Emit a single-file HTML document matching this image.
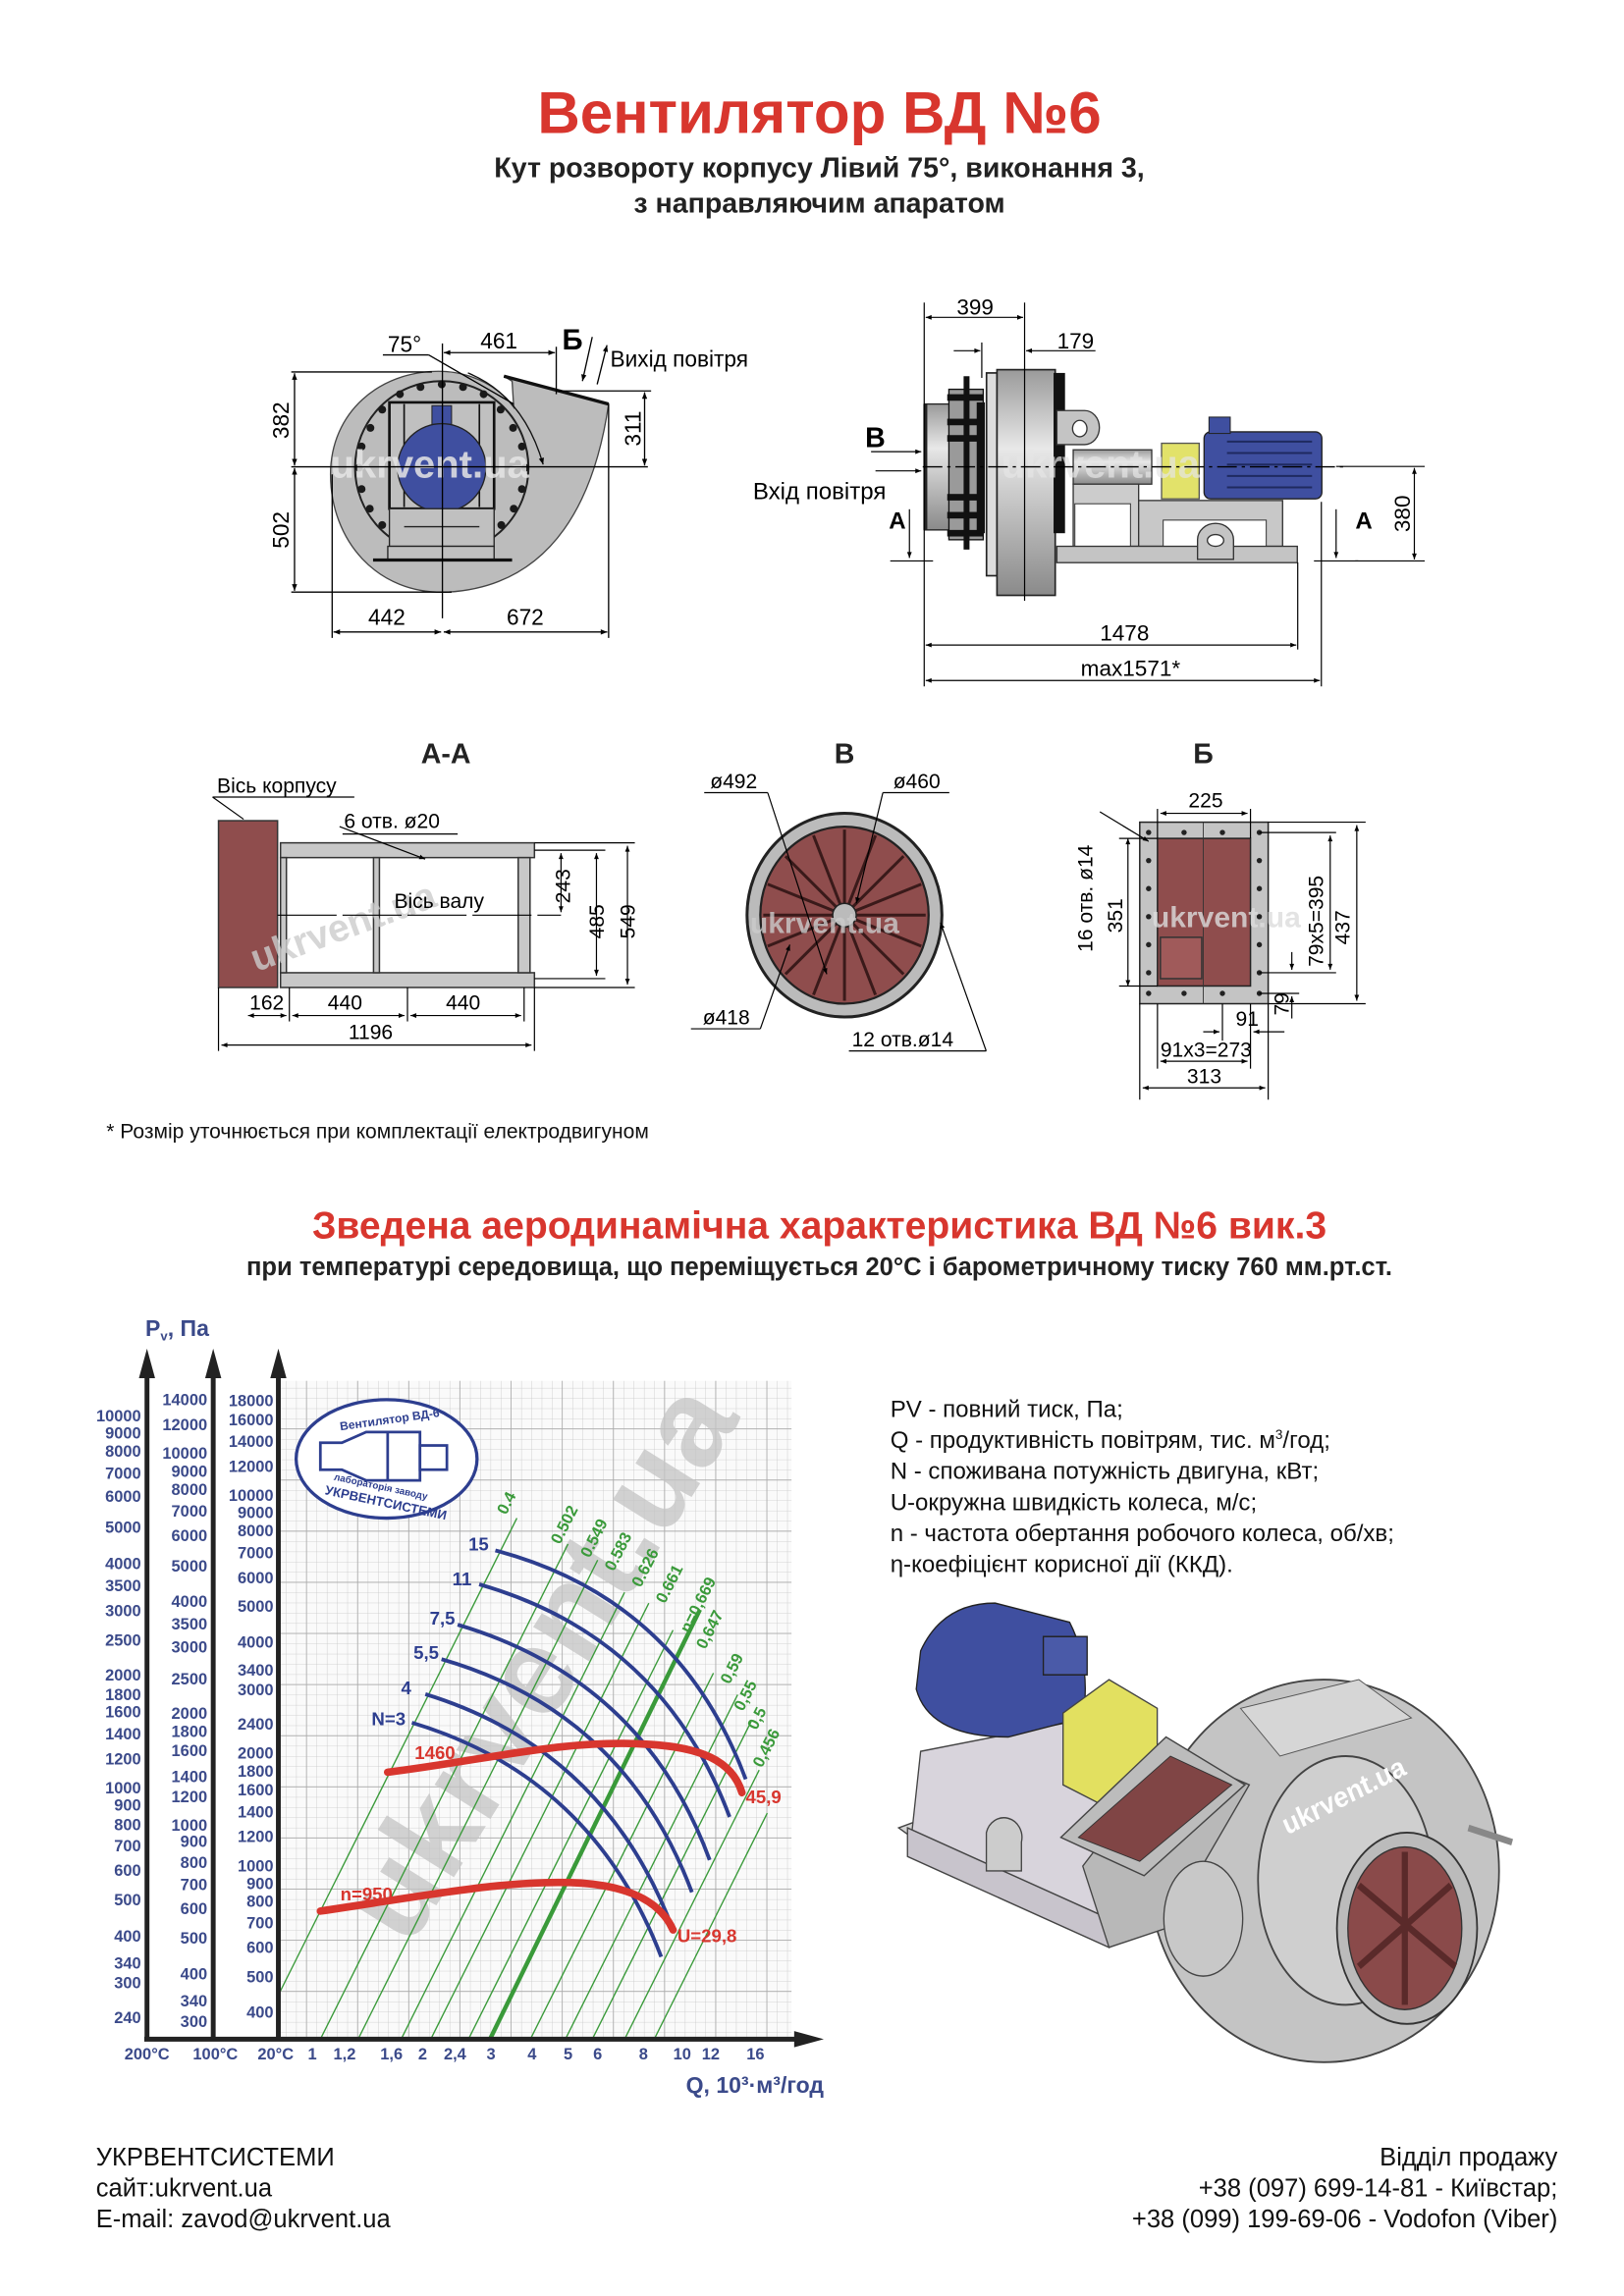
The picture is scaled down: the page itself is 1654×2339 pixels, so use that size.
<!DOCTYPE html>
<html><head><meta charset="utf-8">
<style>
html,body{margin:0;padding:0;background:#fff;}
svg{display:block;}
text{font-family:"Liberation Sans",Arial,sans-serif;}
</style></head><body>
<svg width="1654" height="2339" viewBox="0 0 1100 1555.5" xmlns="http://www.w3.org/2000/svg">
<defs>
<marker id="ar" viewBox="0 0 10 10" refX="10" refY="5" markerWidth="8" markerHeight="5" orient="auto-start-reverse"><path d="M0,1 L10,5 L0,9 z" fill="#000"/></marker>
<pattern id="gf" width="19" height="19" patternUnits="userSpaceOnUse"><path d="M19 0 V19 M0 19 H19" stroke="#c8c8c8" stroke-width="1.5" fill="none"/></pattern>
<pattern id="gc" width="95" height="95" patternUnits="userSpaceOnUse"><path d="M95 0 V95 M0 95 H95" stroke="#aaa" stroke-width="3" fill="none"/></pattern>
<linearGradient id="cyl" x1="0" y1="0" x2="0" y2="1"><stop offset="0" stop-color="#9a9a9a"/><stop offset="0.35" stop-color="#e8e8e8"/><stop offset="1" stop-color="#8a8a8a"/></linearGradient>
</defs>

<!-- Titles -->
<text x="555" y="90" text-anchor="middle" font-size="40" font-weight="bold" fill="#d8362e">Вентилятор  ВД №6</text>
<text x="555" y="120" text-anchor="middle" font-size="19" font-weight="bold" fill="#222">Кут розвороту корпусу Лівий 75°, виконання 3,</text>
<text x="555" y="144" text-anchor="middle" font-size="19" font-weight="bold" fill="#222">з направляючим апаратом</text>

<!-- Front view -->
<g transform="translate(199.5,219.4) scale(0.2216)">
 <path d="M640 160 L960 245 C920 520 800 800 470 820 C250 830 110 660 110 460 C110 270 260 145 440 145 C550 145 630 200 670 255 L665 175 Z" fill="#bcbcbc" stroke="#444" stroke-width="4"/>
 <line x1="640" y1="160" x2="960" y2="245" stroke="#111" stroke-width="10"/>
 <circle cx="450" cy="440" r="265" fill="none" stroke="#222" stroke-width="6"/>
 <g fill="#1a1a1a">
  <circle cx="450" cy="185" r="12"/><circle cx="515" cy="193" r="12"/><circle cx="578" cy="215" r="12"/><circle cx="630" cy="262" r="12"/><circle cx="668" cy="318" r="12"/><circle cx="695" cy="375" r="12"/><circle cx="705" cy="440" r="12"/><circle cx="695" cy="505" r="12"/><circle cx="670" cy="565" r="12"/><circle cx="632" cy="615" r="12"/>
  <circle cx="385" cy="193" r="12"/><circle cx="322" cy="215" r="12"/><circle cx="268" cy="262" r="12"/><circle cx="232" cy="318" r="12"/><circle cx="205" cy="375" r="12"/><circle cx="197" cy="440" r="12"/><circle cx="205" cy="505" r="12"/><circle cx="230" cy="565" r="12"/><circle cx="268" cy="615" r="12"/>
 </g>
 <rect x="290" y="240" width="320" height="325" fill="#c0c0c0" stroke="#111" stroke-width="8"/>
 <line x1="335" y1="245" x2="335" y2="560" stroke="#111" stroke-width="5"/><line x1="565" y1="245" x2="565" y2="560" stroke="#111" stroke-width="5"/>
 <rect x="420" y="250" width="60" height="60" fill="#3f4fa0" stroke="#222" stroke-width="3"/>
 <circle cx="450" cy="440" r="135" fill="#3f4fa0" stroke="#222" stroke-width="4"/>
 <rect x="290" y="565" width="320" height="115" fill="#c0c0c0" stroke="#222" stroke-width="4"/>
 <line x1="335" y1="620" x2="565" y2="620" stroke="#222" stroke-width="4"/>
 <rect x="285" y="680" width="325" height="40" fill="#c0c0c0" stroke="#222" stroke-width="4"/>
 <line x1="240" y1="722" x2="665" y2="722" stroke="#111" stroke-width="10"/>
 <path d="M530 150 Q700 220 760 430" fill="none" stroke="#111" stroke-width="4" marker-end="url(#ar)"/>
 <text x="110" y="470" font-size="120" font-weight="bold" fill="#e6e6e6" opacity="0.85">ukrvent.ua</text>
 <g stroke="#000" stroke-width="4" fill="none">
  <line x1="-10" y1="437" x2="1080" y2="437"/>
  <line x1="452" y1="60" x2="452" y2="900"/>
  <line x1="-10" y1="147" x2="420" y2="147"/><line x1="-10" y1="820" x2="480" y2="820"/>
  <line x1="0" y1="151" x2="0" y2="433" marker-start="url(#ar)" marker-end="url(#ar)"/>
  <line x1="0" y1="441" x2="0" y2="816" marker-start="url(#ar)" marker-end="url(#ar)"/>
  <line x1="800" y1="205" x2="1090" y2="205"/>
  <line x1="1070" y1="209" x2="1070" y2="433" marker-start="url(#ar)" marker-end="url(#ar)"/>
  <line x1="115" y1="460" x2="115" y2="960"/><line x1="960" y1="245" x2="960" y2="960"/>
  <line x1="119" y1="942" x2="448" y2="942" marker-start="url(#ar)" marker-end="url(#ar)"/>
  <line x1="456" y1="942" x2="956" y2="942" marker-start="url(#ar)" marker-end="url(#ar)"/>
  <line x1="456" y1="88" x2="796" y2="88" marker-start="url(#ar)" marker-end="url(#ar)"/>
  <line x1="800" y1="70" x2="800" y2="215"/>
  <line x1="270" y1="95" x2="410" y2="95"/><line x1="410" y1="95" x2="670" y2="245"/>
  <line x1="910" y1="40" x2="880" y2="175" marker-end="url(#ar)"/>
  <line x1="925" y1="185" x2="955" y2="65" marker-end="url(#ar)"/>
 </g>
 <g font-size="68" fill="#000">
  <text x="285" y="85">75°</text><text x="568" y="75">461</text>
  <text x="818" y="78" font-size="88" font-weight="bold">Б</text>
  <text x="965" y="130">Вихід повітря</text>
  <text transform="translate(-18,295) rotate(-90)" text-anchor="middle">382</text>
  <text transform="translate(-18,630) rotate(-90)" text-anchor="middle">502</text>
  <text transform="translate(1058,320) rotate(-90)" text-anchor="middle">311</text>
  <text x="282" y="920" text-anchor="middle">442</text><text x="705" y="920" text-anchor="middle">672</text>
 </g>
</g>

<!-- Side view -->
<g transform="translate(611.7,219.4) scale(0.2216)">
 <rect x="65" y="245" width="80" height="385" fill="url(#cyl)" stroke="#222" stroke-width="4"/>
 <rect x="62" y="245" width="12" height="385" fill="#222"/>
 <rect x="140" y="200" width="105" height="460" fill="#9a9a9a" stroke="#111" stroke-width="4"/>
 <g fill="#111">
  <rect x="185" y="160" width="18" height="530"/><rect x="135" y="215" width="110" height="20"/><rect x="135" y="290" width="110" height="20"/><rect x="135" y="340" width="110" height="20"/><rect x="135" y="520" width="110" height="20"/><rect x="135" y="575" width="110" height="20"/><rect x="135" y="630" width="110" height="20"/>
  <rect x="225" y="240" width="25" height="400"/>
 </g>
 <rect x="255" y="150" width="32" height="620" fill="#ddd" stroke="#222" stroke-width="5"/>
 <rect x="287" y="140" width="178" height="690" fill="url(#cyl)" stroke="#222" stroke-width="5"/>
 <rect x="460" y="150" width="35" height="490" fill="#111"/>
 <path d="M470 265 h85 a45 52 0 0 1 0 104 h-85z" fill="#c4c4c4" stroke="#333" stroke-width="4"/>
 <ellipse cx="540" cy="320" rx="22" ry="25" fill="#fff" stroke="#333" stroke-width="4"/>
 <rect x="520" y="385" width="240" height="105" fill="url(#cyl)" stroke="#333" stroke-width="4"/>
 <rect x="520" y="490" width="200" height="190" fill="#ccc" stroke="#333" stroke-width="4"/>
 <rect x="525" y="550" width="170" height="130" fill="#fff" stroke="#333" stroke-width="3"/>
 <rect x="720" y="540" width="440" height="140" fill="#c8c8c8" stroke="#333" stroke-width="4"/>
 <rect x="795" y="600" width="315" height="80" fill="#fff" stroke="#333" stroke-width="3"/>
 <rect x="470" y="680" width="735" height="50" fill="#c4c4c4" stroke="#333" stroke-width="4"/>
 <path d="M900 720 v-60 a55 50 0 0 1 110 0 v60z" fill="#c4c4c4" stroke="#333" stroke-width="4"/>
 <ellipse cx="955" cy="662" rx="25" ry="18" fill="#fff" stroke="#333" stroke-width="4"/>
 <rect x="790" y="365" width="115" height="170" fill="#e2e26a" stroke="#555" stroke-width="4"/>
 <rect x="920" y="330" width="360" height="205" rx="20" fill="#3f4fa0" stroke="#222" stroke-width="4"/>
 <g stroke="#1f2a60" stroke-width="6"><line x1="990" y1="360" x2="1250" y2="360"/><line x1="990" y1="395" x2="1250" y2="395"/><line x1="990" y1="430" x2="1250" y2="430"/><line x1="990" y1="465" x2="1250" y2="465"/><line x1="990" y1="500" x2="1250" y2="500"/></g>
 <rect x="935" y="285" width="65" height="50" fill="#3f4fa0" stroke="#222" stroke-width="3"/>
 <text x="300" y="470" font-size="120" font-weight="bold" fill="#e6e6e6" opacity="0.7">ukrvent.ua</text>
 <line x1="60" y1="437" x2="1350" y2="437" stroke="#000" stroke-width="4" stroke-dasharray="60 15 10 15"/>
</g>

<!-- Side dims -->
<g stroke="#000" stroke-width="0.8" fill="none">
 <line x1="626" y1="205" x2="626" y2="465"/><line x1="694" y1="205" x2="694" y2="407"/>
 <line x1="665" y1="232" x2="665" y2="256"/><line x1="879" y1="381" x2="879" y2="440"/><line x1="895" y1="340" x2="895" y2="465"/>
 <line x1="627" y1="215" x2="693" y2="215" marker-start="url(#ar)" marker-end="url(#ar)"/>
 <line x1="646" y1="237.6" x2="664" y2="237.6" marker-end="url(#ar)"/>
 <line x1="742" y1="237.6" x2="695" y2="237.6" marker-end="url(#ar)"/>
 <line x1="627" y1="437" x2="878" y2="437" marker-start="url(#ar)" marker-end="url(#ar)"/>
 <line x1="627" y1="461" x2="894" y2="461" marker-start="url(#ar)" marker-end="url(#ar)"/>
 <line x1="590" y1="306" x2="624" y2="306" marker-end="url(#ar)"/>
 <line x1="593" y1="319" x2="624" y2="319" marker-end="url(#ar)"/>
 <line x1="603" y1="380" x2="632" y2="380"/><line x1="616" y1="345" x2="616" y2="378" marker-end="url(#ar)"/>
 <line x1="890" y1="380" x2="920" y2="380"/><line x1="905" y1="345" x2="905" y2="378" marker-end="url(#ar)"/>
 <line x1="905" y1="316" x2="965" y2="316"/><line x1="918" y1="380" x2="965" y2="380"/>
 <line x1="958" y1="317" x2="958" y2="379" marker-start="url(#ar)" marker-end="url(#ar)"/>
</g>
<g font-size="15" fill="#000">
 <text x="648" y="213">399</text><text x="716" y="236">179</text>
 <text x="586" y="303" font-weight="bold" font-size="19">В</text>
 <text x="510" y="338" font-size="16">Вхід повітря</text>
 <text x="602" y="358" font-weight="bold" font-size="16">А</text>
 <text x="918" y="358" font-weight="bold" font-size="16">А</text>
 <text x="745" y="434">1478</text><text x="732" y="458">max1571*</text>
 <text transform="translate(955,348) rotate(-90)" text-anchor="middle">380</text>
</g>

<!-- Section headings -->
<g font-size="19" font-weight="bold" fill="#222">
 <text x="302" y="517" text-anchor="middle">А-А</text>
 <text x="572" y="517" text-anchor="middle">В</text>
 <text x="815" y="517" text-anchor="middle">Б</text>
</g>

<!-- A-A -->
<g font-size="14" fill="#000">
 <rect x="148" y="556" width="40" height="113" fill="#8f4d4d" stroke="#333"/>
 <rect x="190" y="571" width="172" height="10" fill="#c8c8c8" stroke="#333"/>
 <rect x="190" y="659" width="172" height="10" fill="#c8c8c8" stroke="#333"/>
 <rect x="190" y="581" width="4" height="78" fill="#c8c8c8" stroke="#333"/>
 <rect x="253" y="581" width="4" height="78" fill="#c8c8c8" stroke="#333"/>
 <rect x="351" y="581" width="8" height="78" fill="#c8c8c8" stroke="#333"/>
 <text x="165" y="630" font-size="26" font-weight="bold" fill="#ccc" opacity="0.8" transform="rotate(-20 250 620)">ukrvent.ua</text>
 <g stroke="#000" stroke-width="0.8" fill="none">
  <line x1="148" y1="669" x2="148" y2="712"/><line x1="196" y1="669" x2="196" y2="692"/><line x1="276" y1="669" x2="276" y2="692"/><line x1="355" y1="669" x2="355" y2="692"/><line x1="362" y1="669" x2="362" y2="712"/>
  <line x1="168" y1="688" x2="194" y2="688" marker-start="url(#ar)" marker-end="url(#ar)"/>
  <line x1="198" y1="688" x2="274" y2="688" marker-start="url(#ar)" marker-end="url(#ar)"/>
  <line x1="278" y1="688" x2="353" y2="688" marker-start="url(#ar)" marker-end="url(#ar)"/>
  <line x1="150" y1="708" x2="360" y2="708" marker-start="url(#ar)" marker-end="url(#ar)"/>
  <line x1="362" y1="571" x2="430" y2="571"/><line x1="362" y1="669" x2="430" y2="669"/><line x1="362" y1="576" x2="410" y2="576"/><line x1="362" y1="663" x2="410" y2="663"/>
  <line x1="380" y1="578" x2="380" y2="618" marker-start="url(#ar)" marker-end="url(#ar)"/>
  <line x1="404" y1="578" x2="404" y2="661" marker-start="url(#ar)" marker-end="url(#ar)"/>
  <line x1="425" y1="573" x2="425" y2="667" marker-start="url(#ar)" marker-end="url(#ar)"/>
  <line x1="144" y1="540" x2="240" y2="540"/><line x1="144" y1="540" x2="165" y2="555"/>
  <line x1="232" y1="565" x2="310" y2="565"/><line x1="230" y1="560" x2="288" y2="582" marker-end="url(#ar)"/>
  <line x1="188" y1="620" x2="380" y2="620" stroke-dasharray="40 4"/>
 </g>
 <text x="147" y="537">Вісь корпусу</text>
 <text x="233" y="561">6 отв. ø20</text>
 <text x="267" y="615">Вісь валу</text>
 <text x="169" y="684">162</text><text x="222" y="684">440</text><text x="302" y="684">440</text><text x="236" y="704">1196</text>
 <text transform="translate(386,612) rotate(-90)">243</text>
 <text transform="translate(409,636) rotate(-90)">485</text>
 <text transform="translate(430,636) rotate(-90)">549</text>
</g>

<!-- B view -->
<g font-size="14">
 <ellipse cx="572" cy="620" rx="66" ry="69" fill="#bbb" stroke="#222" stroke-width="2"/>
 <ellipse cx="572" cy="620" rx="57" ry="60" fill="#8f4d4d" stroke="#222" stroke-width="1.5"/>
 <g stroke="#3a1a1a" stroke-width="2">
  <line x1="572" y1="562" x2="572" y2="678"/><line x1="517" y1="620" x2="627" y2="620"/>
  <line x1="532" y1="580" x2="612" y2="660"/><line x1="612" y1="580" x2="532" y2="660"/>
  <line x1="551" y1="566" x2="593" y2="674"/><line x1="593" y1="566" x2="551" y2="674"/>
  <line x1="520" y1="599" x2="624" y2="641"/><line x1="520" y1="641" x2="624" y2="599"/>
 </g>
 <circle cx="572" cy="620" r="8" fill="#bbb" stroke="#222"/>
 <text x="508" y="632" font-size="20" font-weight="bold" fill="#ccc" opacity="0.8">ukrvent.ua</text>
 <g stroke="#000" stroke-width="0.8" fill="none">
  <line x1="477" y1="537" x2="520" y2="537"/><line x1="520" y1="537" x2="560" y2="660" marker-end="url(#ar)"/>
  <line x1="598" y1="537" x2="643" y2="537"/><line x1="598" y1="537" x2="580" y2="612" marker-end="url(#ar)"/>
  <line x1="468" y1="697" x2="515" y2="697"/><line x1="515" y1="697" x2="535" y2="640" marker-end="url(#ar)"/>
  <line x1="668" y1="712" x2="637" y2="625" marker-end="url(#ar)"/><line x1="575" y1="712" x2="668" y2="712"/>
 </g>
 <text x="481" y="534">ø492</text><text x="605" y="534">ø460</text>
 <text x="476" y="694">ø418</text><text x="577" y="709">12 отв.ø14</text>
</g>

<!-- Б view -->
<g font-size="14">
 <rect x="772" y="557" width="87" height="123" fill="#c4c4c4" stroke="#222" stroke-width="1"/>
 <rect x="784" y="568" width="63" height="100" fill="#8f4d4d" stroke="#222"/>
 <rect x="786" y="635" width="28" height="28" fill="#a05a5a" stroke="#333"/>
 <line x1="815" y1="557" x2="815" y2="680" stroke="#333" stroke-width="0.6"/>
 <g fill="#222"><circle cx="778" cy="564" r="1.8"/><circle cx="778" cy="583" r="1.8"/><circle cx="778" cy="602" r="1.8"/><circle cx="778" cy="621" r="1.8"/><circle cx="778" cy="640" r="1.8"/><circle cx="778" cy="659" r="1.8"/><circle cx="778" cy="673" r="1.8"/><circle cx="853" cy="564" r="1.8"/><circle cx="853" cy="583" r="1.8"/><circle cx="853" cy="602" r="1.8"/><circle cx="853" cy="621" r="1.8"/><circle cx="853" cy="640" r="1.8"/><circle cx="853" cy="659" r="1.8"/><circle cx="853" cy="673" r="1.8"/><circle cx="802" cy="564" r="1.8"/><circle cx="828" cy="564" r="1.8"/><circle cx="802" cy="673" r="1.8"/><circle cx="828" cy="673" r="1.8"/></g>
 <text x="780" y="628" font-size="20" font-weight="bold" fill="#ddd" opacity="0.8">ukrvent.ua</text>
 <g stroke="#000" stroke-width="0.8" fill="none">
  <line x1="784" y1="548" x2="784" y2="568"/><line x1="847" y1="548" x2="847" y2="568"/>
  <line x1="786" y1="551" x2="845" y2="551" marker-start="url(#ar)" marker-end="url(#ar)"/>
  <line x1="859" y1="557" x2="925" y2="557"/><line x1="859" y1="680" x2="925" y2="680"/><line x1="853" y1="564" x2="905" y2="564"/><line x1="853" y1="659" x2="905" y2="659"/><line x1="853" y1="673" x2="880" y2="673"/>
  <line x1="919" y1="559" x2="919" y2="678" marker-start="url(#ar)" marker-end="url(#ar)"/>
  <line x1="901" y1="566" x2="901" y2="657" marker-start="url(#ar)" marker-end="url(#ar)"/>
  <line x1="875" y1="645" x2="875" y2="657" marker-end="url(#ar)"/><line x1="875" y1="690" x2="875" y2="675" marker-end="url(#ar)"/>
  <line x1="764" y1="568" x2="764" y2="668" marker-start="url(#ar)" marker-end="url(#ar)"/>
  <line x1="758" y1="568" x2="784" y2="568"/><line x1="758" y1="668" x2="784" y2="668"/>
  <line x1="745" y1="550" x2="778" y2="570" marker-end="url(#ar)"/>
  <line x1="772" y1="680" x2="772" y2="745"/><line x1="859" y1="680" x2="859" y2="745"/><line x1="784" y1="680" x2="784" y2="724"/><line x1="847" y1="680" x2="847" y2="724"/><line x1="828" y1="680" x2="828" y2="705"/>
  <line x1="815" y1="699" x2="826" y2="699" marker-end="url(#ar)"/><line x1="870" y1="699" x2="849" y2="699" marker-end="url(#ar)"/>
  <line x1="786" y1="719" x2="845" y2="719" marker-start="url(#ar)" marker-end="url(#ar)"/>
  <line x1="774" y1="737" x2="857" y2="737" marker-start="url(#ar)" marker-end="url(#ar)"/>
 </g>
 <text x="805" y="547">225</text>
 <text transform="translate(740,645) rotate(-90)">16 отв. ø14</text>
 <text transform="translate(760,632) rotate(-90)">351</text>
 <text transform="translate(896,655) rotate(-90)">79x5=395</text>
 <text transform="translate(914,640) rotate(-90)">437</text>
 <text transform="translate(873,688) rotate(-90)">79</text>
 <text x="837" y="695">91</text><text x="786" y="716">91x3=273</text><text x="804" y="734">313</text>
</g>

<text x="72" y="771" font-size="14" fill="#111">* Розмір уточнюється при комплектації електродвигуном</text>

<text x="555" y="839" text-anchor="middle" font-size="26" font-weight="bold" fill="#d8362e">Зведена аеродинамічна характеристика ВД №6 вик.3</text>
<text x="555" y="864" text-anchor="middle" font-size="17" font-weight="bold" fill="#222">при температурі середовища, що переміщується 20°С і барометричному тиску 760 мм.рт.ст.</text>

<!-- Chart -->
<g transform="translate(0,864.4) scale(0.3647)">
 <rect x="520" y="195" width="950" height="1223" fill="#fafafa"/>
 <rect x="520" y="195" width="950" height="1223" fill="url(#gf)"/>
 <rect x="520" y="195" width="950" height="1223" fill="url(#gc)"/>
 <text transform="translate(760,1250) rotate(-58)" font-size="230" font-weight="bold" fill="#c4c4c4" opacity="0.75">ukrvent.ua</text>
 <ellipse cx="718" cy="340" rx="168" ry="110" fill="#fff" stroke="#2d3e8f" stroke-width="6"/>
 <path d="M595 310 h40 l45 -20 h100 v90 h-100 l-45 -20 h-40z" fill="#fff" stroke="#2d3e8f" stroke-width="5"/>
 <rect x="780" y="315" width="50" height="45" fill="#fff" stroke="#2d3e8f" stroke-width="5"/>
 <line x1="720" y1="290" x2="720" y2="380" stroke="#2d3e8f" stroke-width="5"/>
 <text x="630" y="275" font-size="22" font-weight="bold" fill="#2d3e8f" transform="rotate(-8 718 265)">Вентилятор ВД-6</text>
 <text x="615" y="400" font-size="18" font-weight="bold" fill="#2d3e8f" transform="rotate(12 718 410)">лабораторія заводу</text>
 <text x="600" y="430" font-size="24" font-weight="bold" fill="#2d3e8f" transform="rotate(12 718 430)">УКРВЕНТСИСТЕМИ</text>
 <g stroke="#3a9a3a" stroke-width="2.5" fill="none">
  <line x1="520" y1="1330" x2="960" y2="450"/>
  <line x1="595" y1="1418" x2="1055" y2="498"/>
  <line x1="665" y1="1418" x2="1110" y2="528"/>
  <line x1="745" y1="1418" x2="1160" y2="588"/>
  <line x1="800" y1="1418" x2="1205" y2="608"/>
  <line x1="870" y1="1418" x2="1250" y2="658"/>
  <line x1="985" y1="1418" x2="1325" y2="738"/>
  <line x1="1050" y1="1418" x2="1370" y2="778"/>
  <line x1="1100" y1="1418" x2="1395" y2="828"/>
  <line x1="1160" y1="1418" x2="1410" y2="918"/>
  <line x1="1215" y1="1418" x2="1425" y2="998"/>
 </g>
 <line x1="910" y1="1418" x2="1300" y2="620" stroke="#3a9a3a" stroke-width="8"/>
 <g font-size="30" font-weight="bold" fill="#3a9a3a">
  <text transform="translate(940,445) rotate(-63)">0.4</text>
  <text transform="translate(1040,500) rotate(-63)">0.502</text>
  <text transform="translate(1095,525) rotate(-63)">0.549</text>
  <text transform="translate(1140,550) rotate(-63)">0.583</text>
  <text transform="translate(1190,580) rotate(-63)">0.626</text>
  <text transform="translate(1235,610) rotate(-63)">0.661</text>
  <text transform="translate(1280,665) rotate(-63)">n=0,669</text>
  <text transform="translate(1310,695) rotate(-63)">0,647</text>
  <text transform="translate(1355,760) rotate(-63)">0,59</text>
  <text transform="translate(1380,810) rotate(-63)">0,55</text>
  <text transform="translate(1405,845) rotate(-63)">0,5</text>
  <text transform="translate(1415,915) rotate(-63)">0,456</text>
 </g>
 <g stroke="#2d3e8f" stroke-width="7" fill="none">
  <path d="M920 510 Q1260 600 1385 935"/>
  <path d="M890 573 Q1230 670 1355 1005"/>
  <path d="M850 648 Q1195 750 1318 1085"/>
  <path d="M820 712 Q1160 810 1285 1145"/>
  <path d="M790 777 Q1125 880 1250 1215"/>
  <path d="M765 830 Q1100 930 1228 1265"/>
 </g>
 <g font-size="34" font-weight="bold" fill="#2d3e8f">
  <text x="870" y="510">15</text><text x="840" y="575">11</text><text x="798" y="648">7,5</text><text x="768" y="712">5,5</text><text x="745" y="777">4</text><text x="690" y="835">N=3</text>
 </g>
 <g stroke="#d8362e" stroke-width="14" fill="none" stroke-linecap="round">
  <path d="M720 922 C900 900 1050 860 1200 870 C1300 875 1360 900 1378 960"/>
  <path d="M595 1180 C800 1150 950 1120 1080 1128 C1180 1135 1230 1170 1250 1215"/>
 </g>
 <g font-size="34" font-weight="bold" fill="#d8362e">
  <text x="770" y="898">1460</text><text x="1385" y="980">45,9</text>
  <text x="632" y="1160">n=950</text><text x="1258" y="1238">U=29,8</text>
 </g>
 <g stroke="#222" stroke-width="9">
  <line x1="273" y1="180" x2="273" y2="1418"/><line x1="396" y1="180" x2="396" y2="1418"/><line x1="517" y1="180" x2="517" y2="1418"/>
  <line x1="268" y1="1418" x2="1480" y2="1418"/>
 </g>
 <g fill="#222">
  <path d="M258 190 L273 135 L288 190z"/><path d="M381 190 L396 135 L411 190z"/><path d="M502 190 L517 135 L532 190z"/>
  <path d="M1475 1403 L1530 1418 L1475 1433z"/>
 </g>
 <g font-size="30" font-weight="bold" fill="#3b4a8a" text-anchor="end">
  <text x="262" y="270">10000</text><text x="262" y="302">9000</text><text x="262" y="336">8000</text><text x="262" y="377">7000</text><text x="262" y="420">6000</text><text x="262" y="477">5000</text><text x="262" y="545">4000</text><text x="262" y="586">3500</text><text x="262" y="632">3000</text><text x="262" y="687">2500</text><text x="262" y="752">2000</text><text x="262" y="788">1800</text><text x="262" y="820">1600</text><text x="262" y="861">1400</text><text x="262" y="908">1200</text><text x="262" y="961">1000</text><text x="262" y="993">900</text><text x="262" y="1030">800</text><text x="262" y="1069">700</text><text x="262" y="1115">600</text><text x="262" y="1169">500</text><text x="262" y="1237">400</text><text x="262" y="1287">340</text><text x="262" y="1323">300</text><text x="262" y="1388">240</text>
  <text x="385" y="240">14000</text><text x="385" y="287">12000</text><text x="385" y="340">10000</text><text x="385" y="373">9000</text><text x="385" y="407">8000</text><text x="385" y="447">7000</text><text x="385" y="493">6000</text><text x="385" y="549">5000</text><text x="385" y="615">4000</text><text x="385" y="657">3500</text><text x="385" y="700">3000</text><text x="385" y="759">2500</text><text x="385" y="823">2000</text><text x="385" y="857">1800</text><text x="385" y="892">1600</text><text x="385" y="940">1400</text><text x="385" y="978">1200</text><text x="385" y="1031">1000</text><text x="385" y="1061">900</text><text x="385" y="1100">800</text><text x="385" y="1141">700</text><text x="385" y="1186">600</text><text x="385" y="1240">500</text><text x="385" y="1307">400</text><text x="385" y="1357">340</text><text x="385" y="1395">300</text>
  <text x="508" y="242">18000</text><text x="508" y="278">16000</text><text x="508" y="318">14000</text><text x="508" y="364">12000</text><text x="508" y="418">10000</text><text x="508" y="450">9000</text><text x="508" y="484">8000</text><text x="508" y="525">7000</text><text x="508" y="571">6000</text><text x="508" y="624">5000</text><text x="508" y="691">4000</text><text x="508" y="743">3400</text><text x="508" y="779">3000</text><text x="508" y="843">2400</text><text x="508" y="897">2000</text><text x="508" y="930">1800</text><text x="508" y="965">1600</text><text x="508" y="1006">1400</text><text x="508" y="1052">1200</text><text x="508" y="1106">1000</text><text x="508" y="1139">900</text><text x="508" y="1172">800</text><text x="508" y="1212">700</text><text x="508" y="1258">600</text><text x="508" y="1312">500</text><text x="508" y="1378">400</text>
 </g>
 <g font-size="30" font-weight="bold" fill="#3b4a8a" text-anchor="middle">
  <text x="273" y="1456">200°C</text><text x="400" y="1456">100°C</text><text x="512" y="1456">20°C</text><text x="580" y="1456">1</text><text x="640" y="1456">1,2</text><text x="727" y="1456">1,6</text><text x="785" y="1456">2</text><text x="845" y="1456">2,4</text><text x="912" y="1456">3</text><text x="988" y="1456">4</text><text x="1055" y="1456">5</text><text x="1110" y="1456">6</text><text x="1195" y="1456">8</text><text x="1267" y="1456">10</text><text x="1320" y="1456">12</text><text x="1403" y="1456">16</text>
 </g>
 <text x="1530" y="1518" text-anchor="end" font-size="42" font-weight="bold" fill="#3b4a8a">Q, 10³·м³/год</text>
 <text x="270" y="112" font-size="42" font-weight="bold" fill="#3b4a8a">P<tspan font-size="24" dy="8">v</tspan><tspan dy="-8">, Па</tspan></text>
</g>

<!-- Legend -->
<g font-size="16" fill="#111">
 <text x="603" y="960">PV - повний тиск, Па;</text>
 <text x="603" y="981">Q - продуктивність повітрям, тис. м<tspan font-size="9" dy="-6">3</tspan><tspan dy="6">/год;</tspan></text>
 <text x="603" y="1002">N - споживана потужність двигуна, кВт;</text>
 <text x="603" y="1023">U-окружна швидкість колеса, м/с;</text>
 <text x="603" y="1044">n - частота обертання робочого колеса, об/хв;</text>
 <text x="603" y="1065">η-коефіцієнт корисної дії (ККД).</text>
</g>

<!-- 3D fan -->
<g transform="translate(585,917.6) scale(0.2968,0.324)">
 <path d="M80 990 L640 800 L700 840 L140 1030z" fill="#d4d4d4" stroke="#444" stroke-width="3"/>
 <path d="M110 1000 L130 830 L520 760 L640 800 L560 1180 L110 1000z" fill="#d8d4dc" stroke="#444" stroke-width="3"/>
 <path d="M100 990 L560 1180 L560 1240 L100 1050z" fill="#c8c4cc" stroke="#444" stroke-width="3"/>
 <path d="M280 1000 a40 40 0 0 1 80 20 v60 h-80z" fill="#ccc" stroke="#444" stroke-width="3"/>
 <path d="M130 620 Q180 520 300 520 L470 560 Q520 650 500 760 L330 800 Q150 800 120 700z" fill="#3f4fa0" stroke="#222" stroke-width="3"/>
 <rect x="410" y="590" width="100" height="80" fill="#4a5aa8" stroke="#222" stroke-width="3"/>
 <path d="M455 750 L560 680 L670 740 L670 880 L540 940 L455 900z" fill="#e2e060" stroke="#444" stroke-width="3"/>
 <circle cx="1050" cy="1080" r="400" fill="#c4c4c4" stroke="#444" stroke-width="4"/>
 <path d="M860 740 L1130 680 L1250 760 L950 840z" fill="#d6d6d6" stroke="#555" stroke-width="2"/>
 <path d="M500 1070 L700 830 L880 900 L690 1200 L560 1240z" fill="#b8b8b8" stroke="#444" stroke-width="3"/>
 <path d="M450 1010 L690 800 L870 900 L640 1090z" fill="#bcbcbc" stroke="#444" stroke-width="3"/>
 <path d="M490 1010 L700 840 L840 900 L630 1060z" fill="#804545" stroke="#333" stroke-width="2"/>
 <ellipse cx="775" cy="1180" rx="90" ry="120" fill="#c8c8c8" stroke="#444" stroke-width="3"/>
 <ellipse cx="1100" cy="1100" rx="200" ry="260" fill="#cfcfcf" stroke="#444" stroke-width="4"/>
 <ellipse cx="1240" cy="1200" rx="160" ry="200" fill="#bbb" stroke="#333" stroke-width="4"/>
 <ellipse cx="1235" cy="1200" rx="130" ry="170" fill="#8a4a4a" stroke="#333" stroke-width="3"/>
 <path d="M1130 1110 L1350 1280 M1130 1280 L1340 1110 M1235 1040 L1235 1360" stroke="#5a2a2a" stroke-width="14"/>
 <line x1="1380" y1="990" x2="1480" y2="1020" stroke="#888" stroke-width="14"/>
 <text x="930" y="960" font-size="60" font-weight="bold" fill="#fff" transform="rotate(-25 1050 900)">ukrvent.ua</text>
</g>

<!-- Footer -->
<g font-size="17" fill="#111">
 <text x="65" y="1467">УКРВЕНТСИСТЕМИ</text>
 <text x="65" y="1488">сайт:ukrvent.ua</text>
 <text x="65" y="1509">E-mail: zavod@ukrvent.ua</text>
 <text x="1055" y="1467" text-anchor="end">Відділ продажу</text>
 <text x="1055" y="1488" text-anchor="end">+38 (097) 699-14-81 - Київстар;</text>
 <text x="1055" y="1509" text-anchor="end">+38 (099) 199-69-06 - Vodofon (Viber)</text>
</g>
</svg>
</body></html>
